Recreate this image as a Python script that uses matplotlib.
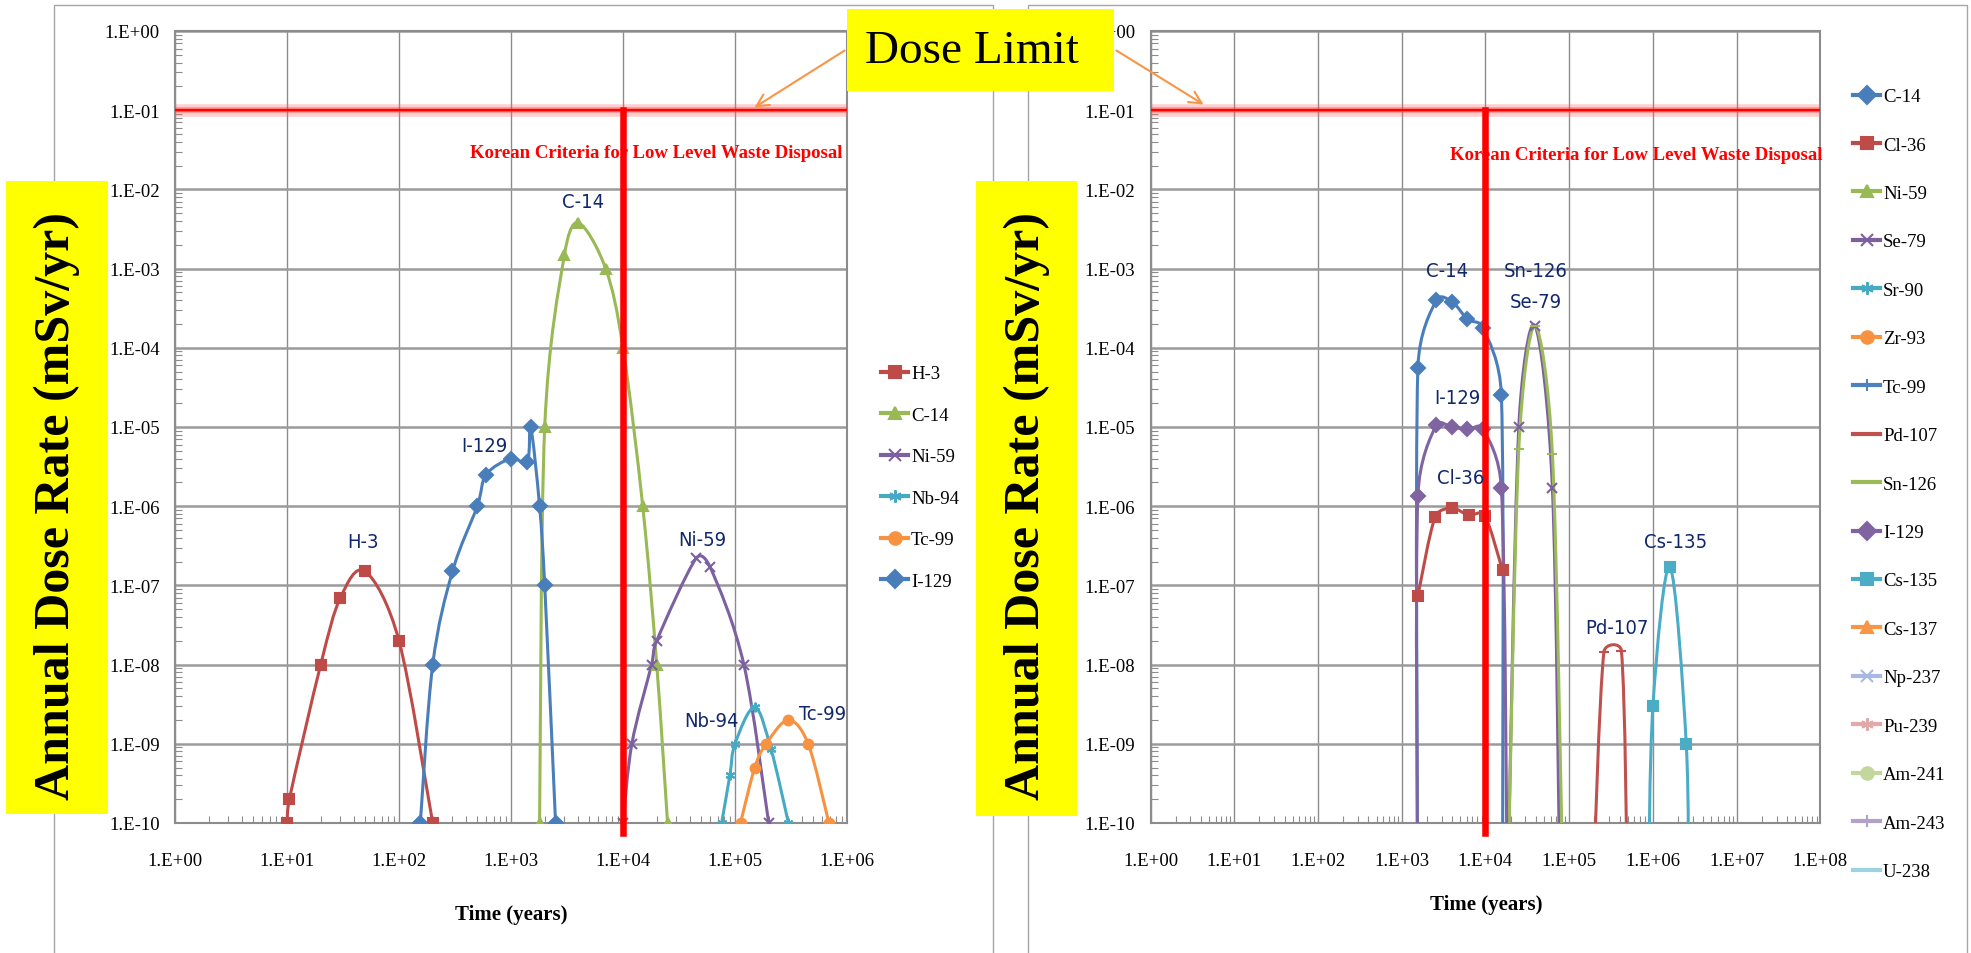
import numpy as np
import matplotlib
matplotlib.use("Agg")
import matplotlib.pyplot as plt
from matplotlib.path import Path
from matplotlib.patches import PathPatch, Rectangle, FancyArrowPatch
from matplotlib.lines import Line2D
from matplotlib.ticker import FixedLocator, FuncFormatter, LogLocator, NullFormatter

W, H = 1971, 954
SERIF = "Liberation Serif"
NAVY = "#10286B"

# ---------------- data (time in years, dose in mSv/yr)
# left chart
h3_t = [10, 10.5, 20, 30, 50, 100, 200]
h3_d = [1e-10, 2e-10, 1e-8, 7e-8, 1.5e-7, 2e-8, 1e-10]
c14_t = [1800, 2000, 3000, 4000, 7000, 10000, 15000, 20000, 25000]
c14_d = [1e-10, 1e-5, 1.5e-3, 3.8e-3, 1e-3, 1e-4, 1e-6, 1e-8, 1e-10]
ni59_t = [10000, 12000, 18000, 20000, 45000, 60000, 120000, 200000]
ni59_d = [1e-10, 1e-9, 1e-8, 2e-8, 2.2e-7, 1.7e-7, 1e-8, 1e-10]
nb94_t = [76000, 90000, 100000, 150000, 210000, 300000]
nb94_d = [1e-10, 4e-10, 1e-9, 2.9e-9, 8.5e-10, 1e-10]
tc99_t = [112000, 150000, 190000, 300000, 450000, 690000]
tc99_d = [1e-10, 5e-10, 1e-9, 2e-9, 1e-9, 1e-10]
i129_t = [155, 200, 300, 500, 600, 1000, 1400, 1500, 1800, 2000, 2500]
i129_d = [1e-10, 1e-8, 1.5e-7, 1e-6, 2.5e-6, 4e-6, 3.6e-6, 1e-5, 1e-6, 1e-7, 1e-10]

# right chart (1e-11 = below the axis floor)
r_c14_t = [1550, 1560, 2600, 4000, 6100, 9300, 15500, 16000]
r_c14_d = [1e-11, 5.6e-5, 4e-4, 3.8e-4, 2.3e-4, 1.8e-4, 2.5e-5, 1e-11]
r_cl36_t = [1560, 2500, 4000, 6300, 9800, 16000]
r_cl36_d = [7.4e-8, 7.2e-7, 9.4e-7, 7.7e-7, 7.6e-7, 1.55e-7]
r_i129_t = [1550, 1560, 2580, 3970, 6100, 9300, 15500, 18300]
r_i129_d = [1e-11, 1.35e-6, 1.05e-5, 1.0e-5, 9.3e-6, 9.5e-6, 1.7e-6, 1e-11]
r_se79_t = [18300, 25000, 39000, 63000, 78000]
r_se79_d = [1e-11, 1.0e-5, 1.9e-4, 1.7e-6, 1e-11]
r_sn126_t = [18300, 25000, 39000, 63000, 85000]
r_sn126_d = [1e-11, 5.2e-6, 1.9e-4, 4.6e-6, 1e-11]
r_pd107_t = [190000, 260000, 420000, 500000]
r_pd107_d = [1e-11, 1.45e-8, 1.5e-8, 1e-11]
r_cs135_t = [880000, 1e6, 1.6e6, 2.5e6, 2.65e6]
r_cs135_d = [1e-11, 3e-9, 1.7e-7, 1e-9, 1e-11]
empty = []

ASTER = (6, 2, 0)
left_series = [
    ("H-3", "#BE4B48", "s", h3_t, h3_d),
    ("C-14", "#98B954", "^", c14_t, c14_d),
    ("Ni-59", "#7D60A0", "x", ni59_t, ni59_d),
    ("Nb-94", "#46AAC5", ASTER, nb94_t, nb94_d),
    ("Tc-99", "#F69240", "o", tc99_t, tc99_d),
    ("I-129", "#4A7EBB", "D", i129_t, i129_d),
]
right_series = [
    ("C-14", "#4A7EBB", "D", r_c14_t, r_c14_d),
    ("Cl-36", "#BE4B48", "s", r_cl36_t, r_cl36_d),
    ("Ni-59", "#98B954", "^", empty, empty),
    ("Se-79", "#7D60A0", "x", r_se79_t, r_se79_d),
    ("Sr-90", "#46AAC5", ASTER, empty, empty),
    ("Zr-93", "#F69240", "o", empty, empty),
    ("Tc-99", "#4F81BD", "|", empty, empty),
    ("Pd-107", "#C0504D", "_", r_pd107_t, r_pd107_d),
    ("Sn-126", "#9BBB59", "_", r_sn126_t, r_sn126_d),
    ("I-129", "#8064A2", "D", r_i129_t, r_i129_d),
    ("Cs-135", "#4BACC6", "s", r_cs135_t, r_cs135_d),
    ("Cs-137", "#F79646", "^", empty, empty),
    ("Np-237", "#A7B9E3", "x", empty, empty),
    ("Pu-239", "#E3A9A9", ASTER, empty, empty),
    ("Am-241", "#C3D69B", "o", empty, empty),
    ("Am-243", "#B3A2C7", "|", empty, empty),
    ("U-238", "#9DD3E1", "", empty, empty),
]
left_labels = [("H-3", 363, 542), ("I-129", 484, 447), ("C-14", 583, 203),
               ("Ni-59", 702, 540), ("Nb-94", 712, 722), ("Tc-99", 823, 715)]
right_labels = [("C-14", 1447, 272), ("Sn-126", 1536, 272), ("Se-79", 1536, 302),
                ("I-129", 1457, 398), ("Cl-36", 1461, 479), ("Pd-107", 1617, 629),
                ("Cs-135", 1676, 542)]


def fx(x):
    return x / W


def fy(y):
    return 1 - y / H


def smooth_path(ax, xs, ys, k=1 / 6, clamp=0.5):
    # excel-like smoothed line: bezier through the points, built in display space
    P = ax.transData.transform(np.column_stack([xs, ys]))
    n = len(P)
    verts, codes = [P[0]], [Path.MOVETO]
    for i in range(n - 1):
        p0 = P[i - 1] if i > 0 else P[i]
        p1, p2 = P[i], P[i + 1]
        p3 = P[i + 2] if i + 2 < n else P[i + 1]
        seg = np.hypot(*(p2 - p1))
        d1 = (p2 - p0) * k
        d2 = (p3 - p1) * k
        for d in (d1, d2):
            ln = np.hypot(*d)
            if ln > clamp * seg and ln > 0:
                d *= clamp * seg / ln
        verts += [p1 + d1, p2 - d2, p2]
        codes += [Path.CURVE4] * 3
    verts = ax.transData.inverted().transform(np.array(verts))
    return Path(verts, codes)


def fmt(v, pos):
    return "1.E%+03d" % int(round(np.log10(v)))


def setup(ax, xmax_exp):
    ax.set_xscale("log")
    ax.set_yscale("log")
    ax.set_xlim(1, 10.0 ** xmax_exp)
    ax.set_ylim(1e-10, 1)
    ax.xaxis.set_major_locator(FixedLocator(10.0 ** np.arange(0, xmax_exp + 1)))
    ax.yaxis.set_major_locator(FixedLocator(10.0 ** np.arange(-10, 1)))
    ax.xaxis.set_minor_locator(LogLocator(base=10, subs=np.arange(2, 10), numticks=60))
    ax.yaxis.set_minor_locator(LogLocator(base=10, subs=np.arange(2, 10), numticks=60))
    ax.xaxis.set_minor_formatter(NullFormatter())
    ax.yaxis.set_minor_formatter(NullFormatter())
    ax.xaxis.set_major_formatter(FuncFormatter(fmt))
    ax.yaxis.set_major_formatter(FuncFormatter(fmt))
    ax.grid(True, which="major", axis="x", color="#8C8C8C", lw=1)
    ax.grid(True, which="major", axis="y", color="#9A9A9A", lw=1.8)
    ax.set_axisbelow(True)
    ax.tick_params(which="both", direction="in", color="#8C8C8C")
    ax.tick_params(which="minor", length=5, width=0.8)
    ax.tick_params(which="major", length=0, labelsize=13.5, labelfontfamily=SERIF)
    ax.tick_params(axis="x", which="major", pad=21)
    ax.tick_params(axis="y", which="major", pad=11)
    for s in ax.spines.values():
        s.set_color("#8C8C8C")
        s.set_linewidth(1.5)


def draw_series(ax, series):
    handles = []
    for name, col, mk, t, d in series:
        if len(t):
            ax.add_patch(PathPatch(smooth_path(ax, t, d), fill=False, edgecolor=col,
                                   lw=2.2, capstyle="round", joinstyle="round", zorder=3))
            ax.plot(t, d, ls="none", marker=mk, color=col, ms=7, mew=1.5, zorder=4)
        handles.append(Line2D([], [], color=col, lw=3, marker=mk, ms=9, mew=1.5, label=name))
    return handles


def limits(ax):
    ax.axhline(0.1, color="#FF6060", lw=9, alpha=0.3, zorder=5)
    ax.axhline(0.1, color="#FF3030", lw=4, alpha=0.4, zorder=5)
    ax.axhline(0.1, color="#FF0000", lw=1.6, zorder=5)
    ax.axvline(1e4, ymin=-0.012, ymax=0.9, color="#FF0000", lw=4.7, clip_on=False, zorder=6)


fig = plt.figure(figsize=(W / 100, H / 100), dpi=100)

# chart frames
for x0, x1 in [(54, 993), (1028, 1967)]:
    fig.add_artist(Rectangle((fx(x0), fy(960)), (x1 - x0) / W, 954 / H, transform=fig.transFigure,
                             fill=False, edgecolor="#A6A6A6", lw=1, zorder=-1))

axL = fig.add_axes([fx(175), fy(824), (847 - 175) / W, (824 - 32) / H])
axR = fig.add_axes([fx(1150.5), fy(824), (1820.4 - 1150.5) / W, (824 - 32) / H])
setup(axL, 6)
setup(axR, 8)

hL = draw_series(axL, left_series)
hR = draw_series(axR, right_series)
limits(axL)
limits(axR)

fig.legend(handles=hL, loc="upper left", bbox_to_anchor=(fx(881), fy(366)), frameon=False,
           prop={"family": SERIF, "size": 13.5}, handlelength=1.45, handletextpad=0.15,
           labelspacing=1.3, borderpad=0, borderaxespad=0)
fig.legend(handles=hR, loc="upper left", bbox_to_anchor=(fx(1853), fy(89)), frameon=False,
           prop={"family": SERIF, "size": 13.5}, handlelength=1.45, handletextpad=0.15,
           labelspacing=1.67, borderpad=0, borderaxespad=0)

for s, x, y in left_labels + right_labels:
    fig.text(fx(x), fy(y), s, ha="center", va="center", color=NAVY, fontsize=14.5,
             family="DejaVu Sans", fontstretch="condensed")

for x, y in [(656, 153), (1636, 155)]:
    fig.text(fx(x), fy(y), "Korean Criteria for Low Level Waste Disposal", ha="center",
             va="center", color="#FF0000", fontsize=13.5, family=SERIF, fontweight="bold")

for x, y in [(511, 915), (1486, 905)]:
    fig.text(fx(x), fy(y), "Time (years)", ha="center", va="center", fontsize=15,
             family=SERIF, fontweight="bold")

# yellow boxes
for x0, y0, x1, y1 in [(6, 182, 108, 815), (976, 182, 1077, 817), (847, 10, 1114, 92)]:
    fig.add_artist(Rectangle((fx(x0), fy(y1)), (x1 - x0) / W, (y1 - y0) / H,
                             transform=fig.transFigure, facecolor="#FFFF00", edgecolor="none",
                             zorder=5))
for x in [57, 1027]:
    fig.text(fx(x), fy(506), "Annual Dose Rate (mSv/yr)", rotation=90, ha="center", va="center",
             fontsize=36, family=SERIF, fontweight="bold", zorder=6)
fig.text(fx(972), fy(52), "Dose Limit", ha="center", va="center", fontsize=34, family=SERIF,
         zorder=6)

for a, b in [((847, 50), (752, 110)), ((1114, 50), (1206, 107))]:
    fig.add_artist(FancyArrowPatch((fx(a[0]), fy(a[1])), (fx(b[0]), fy(b[1])),
                                   transform=fig.transFigure, arrowstyle="->", mutation_scale=22,
                                   color="#F79646", lw=1.5, zorder=6))

fig.savefig("out.png", dpi=100)
